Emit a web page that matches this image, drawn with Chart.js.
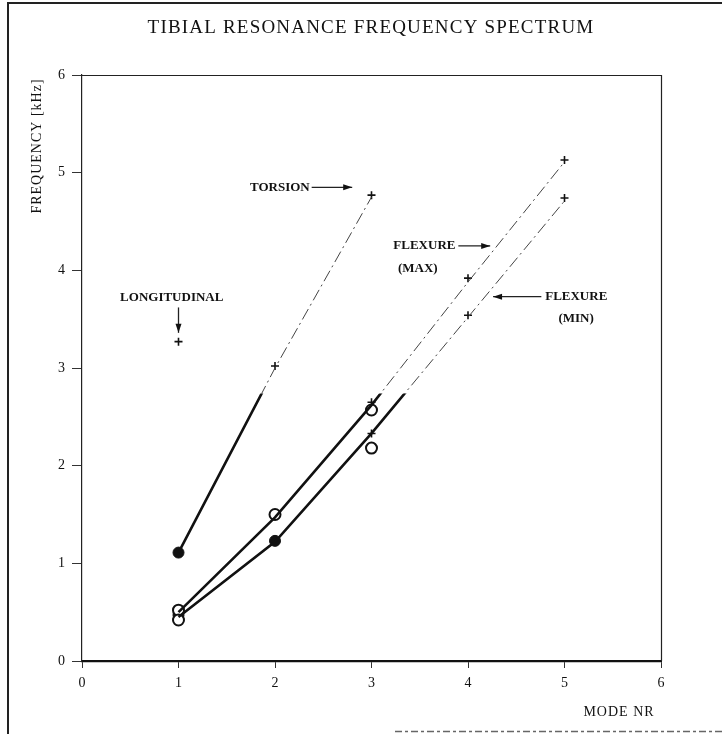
<!DOCTYPE html>
<html>
<head>
<meta charset="utf-8">
<script src="https://cdn.jsdelivr.net/npm/chart.js@4.4.1/dist/chart.umd.min.js"></script>
<style>
  html, body { margin: 0; padding: 0; background: #fff; }
  #wrap { width: 722px; height: 734px; }
</style>
</head>
<body>
<div id="wrap"><canvas id="spectrum"></canvas></div>
<script>
// mode numbers and fitted curves (kHz)
var modes = [1, 2, 3, 4, 5];
var torsionLine = [1.11, 3.0, 4.75];
var flexMaxLine = [0.5, 1.47, 2.62, 3.88, 5.11];
var flexMinLine = [0.45, 1.22, 2.33, 3.52, 4.71];
var solidUpTo = 2.74; // fitted lines are drawn solid below this frequency

// measured points
var openCircleModes = [1, 1, 2, 3, 3];
var openCircleFreq = [0.52, 0.42, 1.5, 2.57, 2.18];
var filledCircleModes = [1, 1, 2];
var filledCircleFreq = [1.11, 0.47, 1.23];
var starModes = [1, 2, 3, 3, 4, 5, 3, 4, 5];
var starFreq = [3.27, 3.02, 4.77, 2.65, 3.92, 5.13, 2.33, 3.54, 4.74];

var xTicks = [0, 1, 2, 3, 4, 5, 6];
var yTicks = [0, 1, 2, 3, 4, 5, 6];

var serif = '"Liberation Serif", "DejaVu Serif", serif';

function pts(xs, ys) {
    return ys.map(function (y, i) { return { x: xs[i], y: y }; });
}

function fitted(values, band) {
    var thick = band === 'below';
    return {
        type: 'line',
        data: pts(modes, values),
        band: band,
        borderColor: thick ? '#111' : '#444',
        borderWidth: thick ? 2.6 : 1,
        borderDash: thick ? [] : [12, 4, 2, 4],
        pointRadius: 0,
        tension: 0,
        fill: false
    };
}

// clip the solid / dashed halves of each fitted line
var bandClip = {
    id: 'bandClip',
    beforeDatasetDraw: function (chart, args) {
        var ds = chart.data.datasets[args.index];
        if (!ds.band) return;
        var a = chart.chartArea;
        var y = chart.scales.y.getPixelForValue(solidUpTo);
        var ctx = chart.ctx;
        ctx.save();
        ctx.beginPath();
        if (ds.band === 'below') ctx.rect(a.left - 5, y, a.right - a.left + 10, a.bottom - y + 5);
        else ctx.rect(a.left - 5, a.top - 5, a.right - a.left + 10, y - a.top + 5);
        ctx.clip();
    },
    afterDatasetDraw: function (chart, args) {
        var ds = chart.data.datasets[args.index];
        if (ds.band) chart.ctx.restore();
    }
};

// frame, titles and callout labels
var decorations = {
    id: 'decorations',
    afterDraw: function (chart) {
        var ctx = chart.ctx;
        var a = chart.chartArea;
        var sx = chart.scales.x, sy = chart.scales.y;
        ctx.save();

        // outer frame (open on the right)
        ctx.strokeStyle = '#222';
        ctx.lineWidth = 2;
        ctx.beginPath();
        ctx.moveTo(8, 734); ctx.lineTo(8, 3); ctx.lineTo(722, 3);
        ctx.stroke();
        ctx.lineWidth = 1.3;
        ctx.setLineDash([7, 3, 3, 3]);
        ctx.strokeStyle = '#666';
        ctx.beginPath();
        ctx.moveTo(395, 731.5); ctx.lineTo(722, 731.5);
        ctx.stroke();
        ctx.setLineDash([]);
        ctx.strokeStyle = '#222';

        // plot frame top and right
        ctx.lineWidth = 1.2;
        ctx.beginPath();
        ctx.moveTo(a.left, a.top + 0.5); ctx.lineTo(a.right + 0.5, a.top + 0.5); ctx.lineTo(a.right + 0.5, a.bottom);
        ctx.stroke();

        ctx.fillStyle = '#111';
        ctx.textAlign = 'center';
        ctx.textBaseline = 'middle';

        // main title
        ctx.font = '19px ' + serif;
        if ('letterSpacing' in ctx) ctx.letterSpacing = '1.2px';
        ctx.fillText('TIBIAL RESONANCE FREQUENCY SPECTRUM', 371, 28);

        // axis titles
        ctx.font = '14px ' + serif;
        if ('letterSpacing' in ctx) ctx.letterSpacing = '1px';
        ctx.save();
        ctx.translate(37, 146);
        ctx.rotate(-Math.PI / 2);
        ctx.fillText('FREQUENCY [kHz]', 0, 0);
        ctx.restore();
        ctx.fillText('MODE NR', 619, 712);
        if ('letterSpacing' in ctx) ctx.letterSpacing = '0px';

        // callouts
        function X(v) { return sx.getPixelForValue(v); }
        function Y(v) { return sy.getPixelForValue(v); }
        function arrow(x1, y1, x2, y2) {
            ctx.lineWidth = 1.3;
            ctx.beginPath(); ctx.moveTo(x1, y1); ctx.lineTo(x2, y2); ctx.stroke();
            var ang = Math.atan2(y2 - y1, x2 - x1);
            ctx.beginPath();
            ctx.moveTo(x2, y2);
            ctx.lineTo(x2 - 9 * Math.cos(ang) + 3 * Math.sin(ang), y2 - 9 * Math.sin(ang) - 3 * Math.cos(ang));
            ctx.lineTo(x2 - 9 * Math.cos(ang) - 3 * Math.sin(ang), y2 - 9 * Math.sin(ang) + 3 * Math.cos(ang));
            ctx.closePath();
            ctx.fill();
        }
        ctx.font = 'bold 13px ' + serif;

        ctx.textAlign = 'center';
        ctx.fillText('LONGITUDINAL', X(0.93), Y(3.72));
        arrow(X(1), Y(3.62), X(1), Y(3.36));

        ctx.textAlign = 'right';
        ctx.fillText('TORSION', X(2.36), Y(4.85));
        arrow(X(2.38), Y(4.85), X(2.8), Y(4.85));

        ctx.fillText('FLEXURE', X(3.87), Y(4.25));
        ctx.textAlign = 'center';
        ctx.fillText('(MAX)', X(3.48), Y(4.02));
        arrow(X(3.9), Y(4.25), X(4.23), Y(4.25));

        arrow(X(4.76), Y(3.73), X(4.26), Y(3.73));
        ctx.textAlign = 'left';
        ctx.fillText('FLEXURE', X(4.8), Y(3.73));
        ctx.textAlign = 'center';
        ctx.fillText('(MIN)', X(5.12), Y(3.51));

        ctx.restore();
    }
};

var ctx = document.getElementById('spectrum').getContext('2d');
var spectrumChart = new Chart(ctx, {
    type: 'scatter',
    data: {
        datasets: [
            fitted(torsionLine, 'above'),
            fitted(flexMaxLine, 'above'),
            fitted(flexMinLine, 'above'),
            fitted(torsionLine, 'below'),
            fitted(flexMaxLine, 'below'),
            fitted(flexMinLine, 'below'),
            {
                data: pts(openCircleModes, openCircleFreq),
                pointStyle: 'circle',
                pointRadius: 5.5,
                backgroundColor: '#fff',
                borderColor: '#111',
                borderWidth: 2
            },
            {
                data: pts(filledCircleModes, filledCircleFreq),
                pointStyle: 'circle',
                pointRadius: 5.5,
                backgroundColor: '#111',
                borderColor: '#111',
                borderWidth: 1
            },
            {
                data: pts(starModes, starFreq),
                pointStyle: 'cross',
                pointRadius: 4,
                borderColor: '#111',
                borderWidth: 1.6
            }
        ]
    },
    options: {
        responsive: true,
        maintainAspectRatio: false,
        animation: false,
        layout: { padding: { left: 0, top: 75, right: 61, bottom: 0 } },
        plugins: {
            legend: { display: false },
            tooltip: { enabled: false }
        },
        scales: {
            x: {
                type: 'linear',
                min: 0,
                max: 6,
                afterBuildTicks: function (scale) {
                    scale.ticks = xTicks.map(function (v) { return { value: v }; });
                },
                afterFit: function (scale) { scale.height = 73; },
                border: { display: true, color: '#111', width: 2.2 },
                grid: { drawOnChartArea: false, drawTicks: true, tickLength: 7, color: '#333', lineWidth: 1 },
                ticks: { color: '#111', padding: 7, font: { family: serif, size: 14 } }
            },
            y: {
                type: 'linear',
                min: 0,
                max: 6,
                afterBuildTicks: function (scale) {
                    var t = [];
                    yTicks.forEach(function (v, i) {
                        t.push({ value: v });
                        if (i < yTicks.length - 1) t.push({ value: v + 0.5 });
                    });
                    scale.ticks = t;
                },
                afterFit: function (scale) { scale.width = 82; },
                border: { display: true, color: '#222', width: 1.2 },
                grid: {
                    drawOnChartArea: false,
                    drawTicks: true,
                    tickLength: 10,
                    color: function (c) { return c.tick && c.tick.value % 1 ? 'rgba(0,0,0,0)' : '#333'; }
                },
                ticks: {
                    color: '#111',
                    padding: 7,
                    font: { family: serif, size: 14 },
                    callback: function (v) { return v % 1 ? '' : v; }
                }
            }
        }
    },
    plugins: [bandClip, decorations]
});
</script>
</body>
</html>
